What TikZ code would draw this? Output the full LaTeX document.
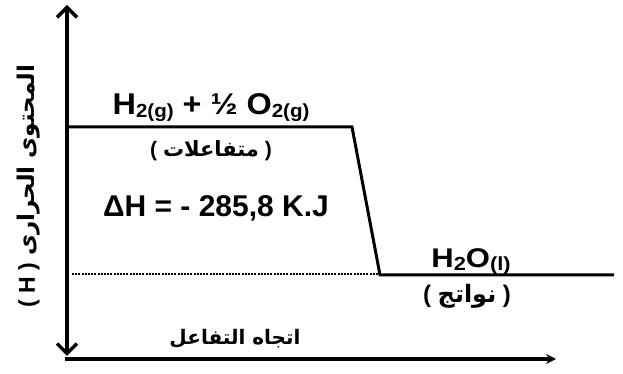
\documentclass[tikz,border=0pt]{standalone}
\usepackage{fontspec}
\usepackage{graphicx}
\setmainfont{Liberation Sans}
\newfontfamily\arabicfont[Script=Arabic]{DejaVu Sans}
\TeXXeTstate=1
\usetikzlibrary{arrows.meta}
\newcommand{\subtx}[1]{\raisebox{-0.15ex}{\fontsize{19}{19}\selectfont #1}}
\newcommand{\artx}[1]{{\arabicfont\beginR #1\endR}}
\begin{document}
\begin{tikzpicture}[x=1pt,y=1pt,
  axis/.style={line width=4pt},
  level/.style={line width=3pt},
  lbl/.style={font=\bfseries\fontsize{30}{32}\selectfont, inner sep=0pt, anchor=base},
  arlbl/.style={font=\bfseries\fontsize{21}{23}\selectfont, inner sep=0pt}]
\useasboundingbox (0,0) rectangle (623,374);
% axes
\coordinate (vtop) at (67,369);
\coordinate (vbot) at (67,18);
\coordinate (horig) at (65,15);
\coordinate (hend) at (556,15);
\draw[axis, {Straight Barb[length=10pt,width=20pt,line width=3.5pt]}-{Straight Barb[length=10pt,width=20pt,line width=3.5pt]}] (vbot) -- (vtop);
\draw[line width=3.5pt, -{Stealth[length=10pt,width=10pt]}] (horig) -- (hend);
% levels
\coordinate (r0) at (67,247);
\coordinate (r1) at (352,247);
\coordinate (p0) at (380,99);
\coordinate (p1) at (614,99);
\coordinate (d0) at (72,100);
\coordinate (d1) at (378,100);
\draw[level, line join=miter] (r0) -- (r1) -- (p0) -- (p1);
\draw[line width=2pt, dash pattern=on 2pt off 1.2pt] (d0) -- (d1);
% texts
\node[lbl] (react) at (211,259) {\scalebox{1.08}[1]{H\subtx{2(g)} + ½ O\subtx{2(g)}}};
\node[arlbl] (reactar) at (211,223) {( \artx{متفاعلات} )};
\node[lbl] (dh) at (216,157) {ΔH = - 285,8 K.J};
\node[lbl, font=\bfseries\fontsize{27}{29}\selectfont] (prod) at (471,106) {\scalebox{1.15}[1]{H\subtx{2}O\subtx{(l)}}};
\node[arlbl, font=\bfseries\fontsize{24}{26}\selectfont] (prodar) at (467,78) {( \artx{نواتج} )};
\node[arlbl, font=\bfseries\fontsize{20}{22}\selectfont] (dir) at (235,35) {\artx{اتجاه التفاعل}};
\node[arlbl, font=\bfseries\fontsize{23}{25}\selectfont, rotate=90] (ylab) at (29,188) {( H ) \artx{المحتوى الحرارى}};
\end{tikzpicture}
\end{document}
